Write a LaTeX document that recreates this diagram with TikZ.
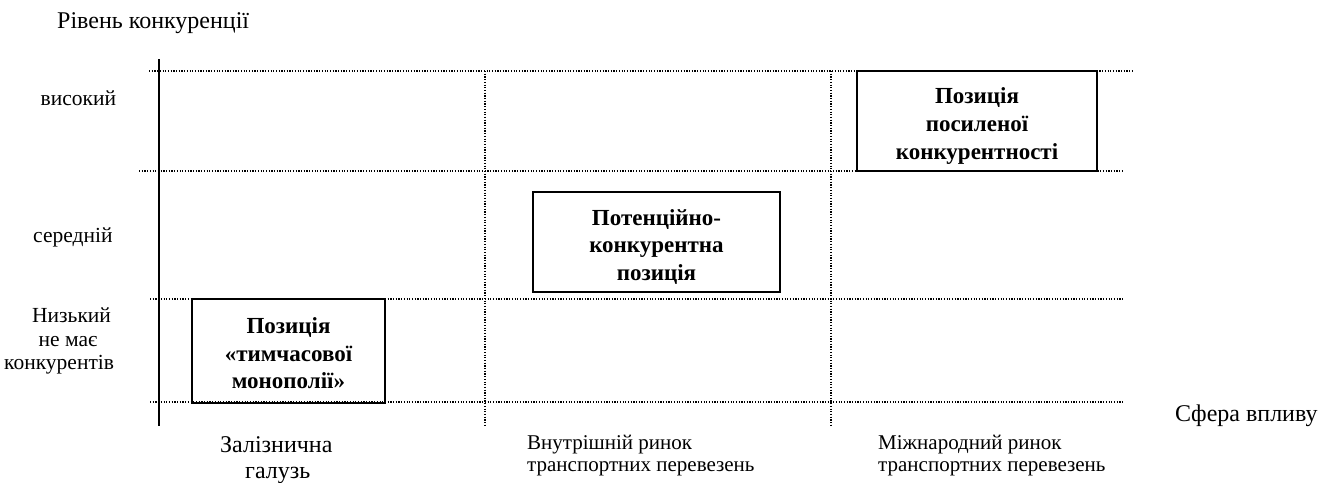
\documentclass[tikz,border=0pt]{standalone}
\usepackage{fontspec}
\setmainfont{Liberation Serif}
\begin{document}
\begin{tikzpicture}[x=1pt,y=-1pt,
  gridline/.style={line width=1.2pt, dash pattern=on 1.2pt off 1.5pt},
  axisline/.style={line width=2pt},
  posbox/.style={draw, line width=1.6pt, inner sep=0pt},
  postext/.style={font=\bfseries\fontsize{23}{27.5}\selectfont, align=center, inner sep=0pt},
  lbl/.style={inner sep=0pt, anchor=base west},
  big/.style={font=\fontsize{24}{24}\selectfont},
  small/.style={font=\fontsize{21.5}{21.5}\selectfont},
  bottom/.style={font=\fontsize{21}{21}\selectfont},
]
\useasboundingbox (0,0) rectangle (1330,482);
% grid coordinates
\coordinate (h1a) at (149,71);  \coordinate (h1b) at (1132,71);
\coordinate (h2a) at (139,171); \coordinate (h2b) at (1122,171);
\coordinate (h3a) at (150,299); \coordinate (h3b) at (1123,299);
\coordinate (h4a) at (150,402); \coordinate (h4b) at (1123,402);
\coordinate (v1a) at (485,71);  \coordinate (v1b) at (485,425);
\coordinate (v2a) at (831,71);  \coordinate (v2b) at (831,425);
\coordinate (axtop) at (159,59); \coordinate (axbot) at (159,426);
\draw[gridline] (h1a) -- (h1b);
\draw[gridline] (h2a) -- (h2b);
\draw[gridline] (h3a) -- (h3b);
\draw[gridline] (h4a) -- (h4b);
\draw[gridline] (v1a) -- (v1b);
\draw[gridline] (v2a) -- (v2b);
\draw[axisline] (axtop) -- (axbot);
% position texts
\node[postext] (t1) at (288.5,353.5) {Позиція\\«тимчасової\\монополії»};
\node[postext] (t2) at (656.5,247) {Потенційно-\\конкурентна\\позиція};
\node[postext] (t3) at (977,126) {Позиція\\посиленої\\конкурентності};
% boxes
\node[posbox, minimum width=193pt, minimum height=104pt] (b1) at (288.5,351) {};
\node[posbox, minimum width=247pt, minimum height=100pt] (b2) at (656.5,242) {};
\node[posbox, minimum width=240pt, minimum height=100pt] (b3) at (977,121) {};
% labels
\node[lbl, big] (title) at (57,28) {Рівень конкуренції};
\node[lbl, small] (high) at (40.5,105) {високий};
\node[lbl, small] (mid) at (33,242) {середній};
\node[lbl, small] (low1) at (32,322.5) {Низький};
\node[lbl, small] (low2) at (38.5,346.5) {не має};
\node[lbl, small] (low3) at (4,369) {конкурентів};
\node[lbl, big] (rail1) at (220,452) {Залізнична};
\node[lbl, big] (rail2) at (245,478) {галузь};
\node[lbl, bottom] (dom1) at (527,449) {Внутрішній ринок};
\node[lbl, bottom] (dom2) at (527,471.5) {транспортних перевезень};
\node[lbl, bottom] (int1) at (878,449) {Міжнародний ринок};
\node[lbl, bottom] (int2) at (878,471.5) {транспортних перевезень};
\node[lbl, big] (sphere) at (1175,421) {Сфера впливу};
\end{tikzpicture}
\end{document}
